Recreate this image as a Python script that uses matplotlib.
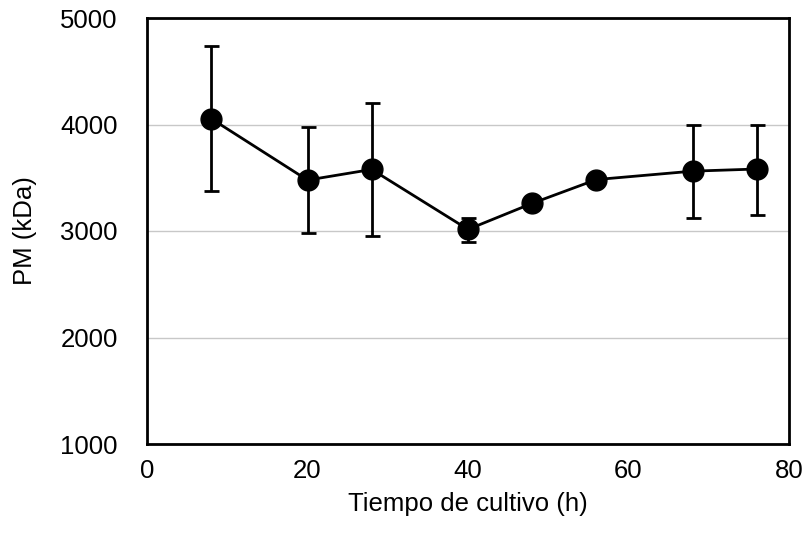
import matplotlib.pyplot as plt

plt.rcParams['font.family'] = ['Liberation Sans', 'DejaVu Sans']

hours = [8, 20, 28, 40, 48, 56, 68, 76]
pm_kda = [4055, 3478, 3578, 3015, 3260, 3483, 3562, 3582]
err_low = [677, 499, 628, 119, 0, 0, 439, 431]
err_high = [679, 503, 628, 107, 0, 0, 438, 418]

fig = plt.figure(figsize=(8.06, 5.33), dpi=100)
ax = fig.add_axes([147 / 806, 1 - 444 / 533, 642 / 806, 426 / 533])

ax.errorbar(hours, pm_kda, yerr=[err_low, err_high], fmt='none',
            ecolor='black', elinewidth=2, capsize=5.4, capthick=2, zorder=2)
ax.plot(hours, pm_kda, color='black', linewidth=2, marker='o',
        markersize=15, zorder=3)

ax.set_xlim(0, 80)
ax.set_ylim(1000, 5000)
ax.set_xticks([0, 20, 40, 60, 80])
ax.set_yticks([1000, 2000, 3000, 4000, 5000])
ax.yaxis.grid(True, color='#c8c8c8', linewidth=1)
ax.set_axisbelow(True)
ax.tick_params(length=0, labelsize=18.5)
ax.tick_params(axis='x', pad=11)
ax.tick_params(axis='y', pad=21)

for s in ax.spines.values():
    s.set_linewidth(2)

ax.set_xlabel('Tiempo de cultivo (h)', fontsize=18.5, labelpad=6)
ax.set_ylabel('PM (kDa)', fontsize=18.5, labelpad=17)

fig.savefig('out.png', dpi=100)
